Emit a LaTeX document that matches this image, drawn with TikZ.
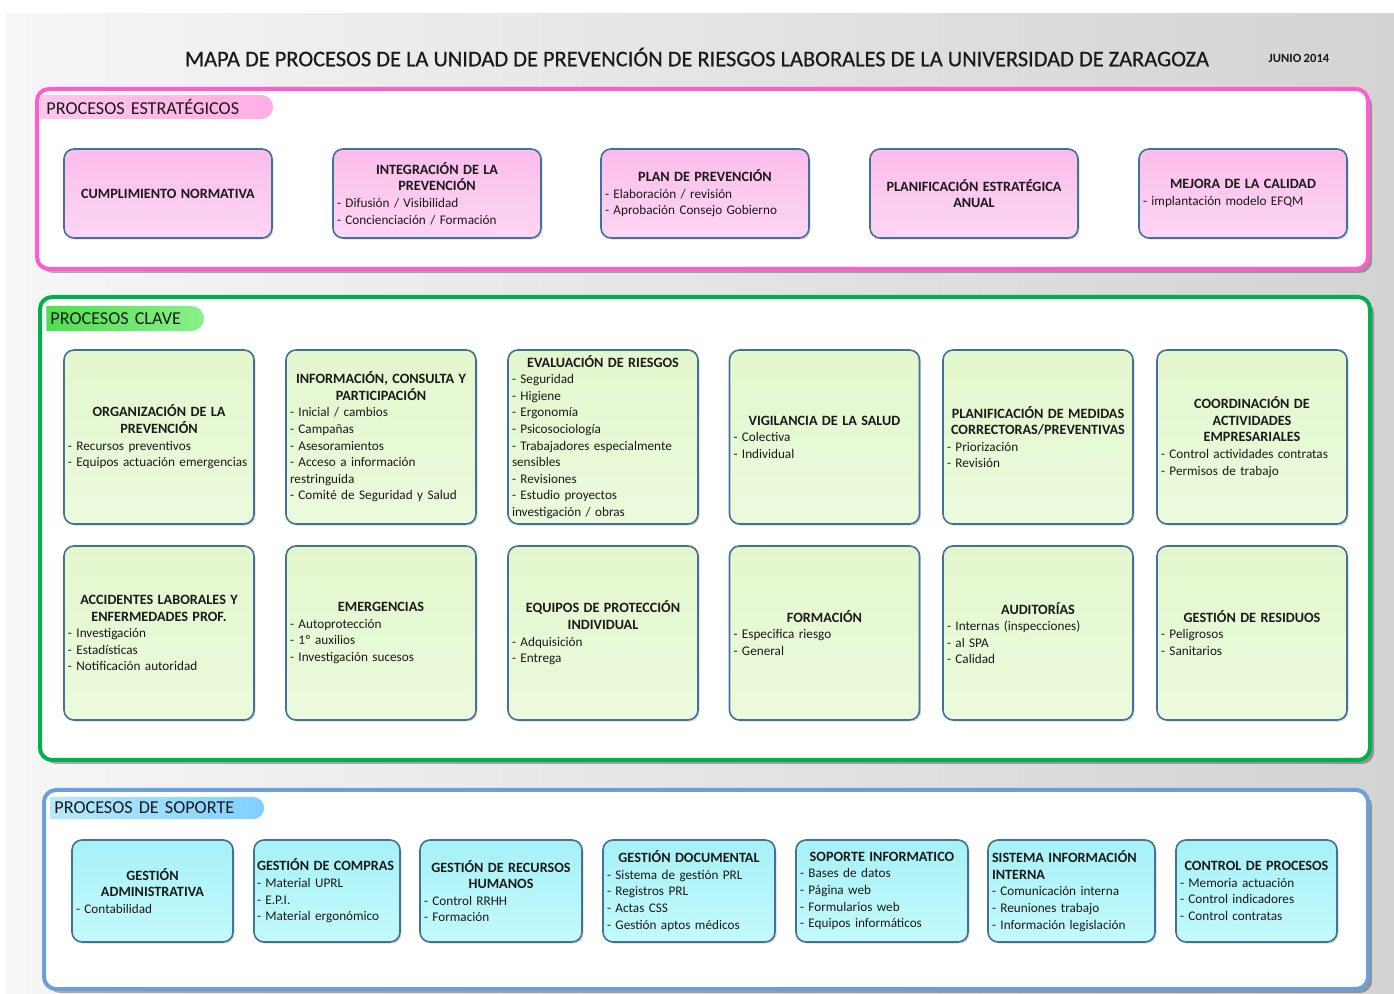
\documentclass[tikz,border=0pt]{standalone}
\usepackage{fontspec}
\setmainfont{Carlito}[WordSpace=0.85]
\newfontfamily\titlefont{Carlito}[FakeBold=0.5]
\usetikzlibrary{shadows,shapes.misc}
\definecolor{bgl}{HTML}{F6F6F6}
\definecolor{bgr}{HTML}{D3D3D3}
\definecolor{boxline}{HTML}{41719C}
\definecolor{pinkline}{HTML}{FF5CCD}
\definecolor{greenline}{HTML}{00B050}
\definecolor{blueline}{HTML}{6A9FDC}
\definecolor{pinkA}{HTML}{FBBDEA}
\definecolor{pinkB}{HTML}{FDD6F4}
\definecolor{greenA}{HTML}{E3F7CD}
\definecolor{greenB}{HTML}{ECFADD}
\definecolor{cyanA}{HTML}{A6F1F7}
\definecolor{cyanB}{HTML}{C4FAFD}
\definecolor{tabpinkA}{HTML}{FFC6EE}
\definecolor{tabpinkB}{HTML}{FFAEE3}
\definecolor{tabgreenA}{HTML}{4FE04F}
\definecolor{tabgreenB}{HTML}{8AEF8A}
\definecolor{tabblueA}{HTML}{B8E8FC}
\definecolor{tabblueB}{HTML}{7FD0FF}
\definecolor{txt}{HTML}{1A1A1A}
\newcommand\hd[1]{{\centering\fontsize{7.1}{8.3}\selectfont\bfseries #1\par}}
\newcommand\hl[1]{{\raggedright\fontsize{7.1}{8.3}\selectfont\bfseries #1\par}}
\newcommand\boxfont{\fontsize{6.6}{8.3}\selectfont}
\tikzset{
  panel/.style={line width=2pt, fill=white, rounded corners=6pt,
    drop shadow={shadow xshift=2pt, shadow yshift=-2pt, opacity=0.3, fill=black}},
  procbox/.style={draw=boxline, line width=0.8pt, rounded corners=5pt,
    align=left, inner xsep=2pt, inner ysep=1pt, font=\boxfont, text=txt,
    drop shadow={shadow xshift=0.8pt, shadow yshift=-0.8pt, opacity=0.15, fill=black}},
  sbox/.style={procbox, top color=pinkA, bottom color=pinkB,
    minimum width=104pt, minimum height=44.5pt, text width=100pt},
  kbox/.style={procbox, top color=greenA, bottom color=greenB,
    minimum width=95pt, minimum height=87pt, text width=91pt},
  pbox/.style={procbox, top color=cyanA, bottom color=cyanB,
    minimum height=51pt},
  tab/.style={rounded rectangle, rounded rectangle left arc=none, anchor=west,
    align=left, inner xsep=3pt, inner ysep=0pt, font=\fontsize{9.1}{10}\selectfont, text=txt},
}
\begin{document}
\begin{tikzpicture}[x=0.5pt,y=-0.5pt]
\useasboundingbox (0,0) rectangle (1394,994);
\fill[white] (0,0) rectangle (1394,994);
\shade[left color=bgl, right color=bgr] (6,14) rectangle (1394,994);

% title
\node[font=\titlefont\fontsize{11.2}{13}\selectfont, text=txt] (title) at (697,57)
  {MAPA DE PROCESOS DE LA UNIDAD DE PREVENCIÓN DE RIESGOS LABORALES DE LA UNIVERSIDAD DE ZARAGOZA};
\node[font=\fontsize{6.3}{7}\selectfont\bfseries, text=txt] (date) at (1299,58) {JUNIO 2014};

% panels
\draw[panel, draw=pinkline] (37,89) rectangle (1368,269);
\draw[panel, draw=greenline] (40,297) rectangle (1370,760);
\draw[panel, draw=blueline] (44,790) rectangle (1368,989);

% tabs
\node[tab, left color=tabpinkA, right color=tabpinkB, minimum height=12pt, text width=109pt] (tabS) at (40,107) {PROCESOS ESTRATÉGICOS};
\node[tab, left color=tabgreenA, right color=tabgreenB, minimum height=12.5pt, text width=74pt, inner xsep=2pt] (tabK) at (46,318.5) {PROCESOS CLAVE};
\node[tab, left color=tabblueA, right color=tabblueB, minimum height=11pt, text width=102pt, inner xsep=2pt] (tabP) at (50,808) {PROCESOS DE SOPORTE};

% strategic
\node[sbox] (s1) at (168,193.5) {\hd{CUMPLIMIENTO NORMATIVA}};
\node[sbox] (s2) at (437,193.5) {\hd{INTEGRACIÓN DE LA\\PREVENCIÓN}- Difusión / Visibilidad\\- Concienciación / Formación};
\node[sbox] (s3) at (705,193.5) {\hd{PLAN DE PREVENCIÓN}- Elaboración / revisión\\- Aprobación Consejo Gobierno};
\node[sbox] (s4) at (974,193.5) {\hd{PLANIFICACIÓN ESTRATÉGICA\\ANUAL}};
\node[sbox] (s5) at (1243,193.5) {\hd{MEJORA DE LA CALIDAD}- implantación modelo EFQM};

% key row 1
\node[kbox] (k1) at (159,437) {\hd{ORGANIZACIÓN DE LA\\PREVENCIÓN}- Recursos preventivos\\- Equipos actuación emergencias};
\node[kbox] (k2) at (381,437) {\hd{INFORMACIÓN, CONSULTA Y\\PARTICIPACIÓN}- Inicial / cambios\\- Campañas\\- Asesoramientos\\- Acceso a información\\restringuida\\- Comité de Seguridad y Salud};
\node[kbox] (k3) at (603,437) {\hd{EVALUACIÓN DE RIESGOS}- Seguridad\\- Higiene\\- Ergonomía\\- Psicosociología\\- Trabajadores especialmente\\sensibles\\- Revisiones\\- Estudio proyectos\\investigación / obras};
\node[kbox] (k4) at (824.5,437) {\hd{VIGILANCIA DE LA SALUD}- Colectiva\\- Individual};
\node[kbox] (k5) at (1038,437) {\hd{PLANIFICACIÓN DE MEDIDAS\\CORRECTORAS/PREVENTIVAS}- Priorización\\- Revisión};
\node[kbox] (k6) at (1252,437) {\hd{COORDINACIÓN DE\\ACTIVIDADES\\EMPRESARIALES}- Control actividades contratas\\- Permisos de trabajo};

% key row 2
\node[kbox] (k7) at (159,633) {\hd{ACCIDENTES LABORALES Y\\ENFERMEDADES PROF.}- Investigación\\- Estadísticas\\- Notificación autoridad};
\node[kbox] (k8) at (381,633) {\hd{EMERGENCIAS}- Autoprotección\\- 1º auxilios\\- Investigación sucesos};
\node[kbox] (k9) at (603,633) {\hd{EQUIPOS DE PROTECCIÓN\\INDIVIDUAL}- Adquisición\\- Entrega};
\node[kbox] (k10) at (824.5,633) {\hd{FORMACIÓN}- Especifica riesgo\\- General};
\node[kbox] (k11) at (1038,633) {\hd{AUDITORÍAS}- Internas (inspecciones)\\- al SPA\\- Calidad};
\node[kbox] (k12) at (1252,633) {\hd{GESTIÓN DE RESIDUOS}- Peligrosos\\- Sanitarios};

% support
\node[pbox, minimum width=80.5pt, text width=76.5pt] (p1) at (152.5,891) {\hd{GESTIÓN\\ADMINISTRATIVA}- Contabilidad};
\node[pbox, minimum width=73pt, text width=70pt, inner xsep=1.5pt] (p2) at (327,891) {\hl{GESTIÓN DE COMPRAS}- Material UPRL\\- E.P.I.\\- Material ergonómico};
\node[pbox, minimum width=81pt, text width=77pt] (p3) at (501,891) {\hd{GESTIÓN DE RECURSOS\\HUMANOS}- Control RRHH\\- Formación};
\node[pbox, minimum width=86pt, text width=82pt] (p4) at (689,891) {\hd{GESTIÓN DOCUMENTAL}- Sistema de gestión PRL\\- Registros PRL\\- Actas CSS\\- Gestión aptos médicos};
\node[pbox, minimum width=86pt, text width=82pt] (p5) at (882,891) {\hd{SOPORTE INFORMATICO}- Bases de datos\\- Página web\\- Formularios web\\- Equipos informáticos};
\node[pbox, minimum width=83.5pt, text width=79.5pt] (p6) at (1071.5,891) {\hl{SISTEMA INFORMACIÓN\\INTERNA}- Comunicación interna\\- Reuniones trabajo\\- Información legislación};
\node[pbox, minimum width=80.5pt, text width=76.5pt] (p7) at (1256.5,891) {\hd{CONTROL DE PROCESOS}- Memoria actuación\\- Control indicadores\\- Control contratas};
\end{tikzpicture}
\end{document}
